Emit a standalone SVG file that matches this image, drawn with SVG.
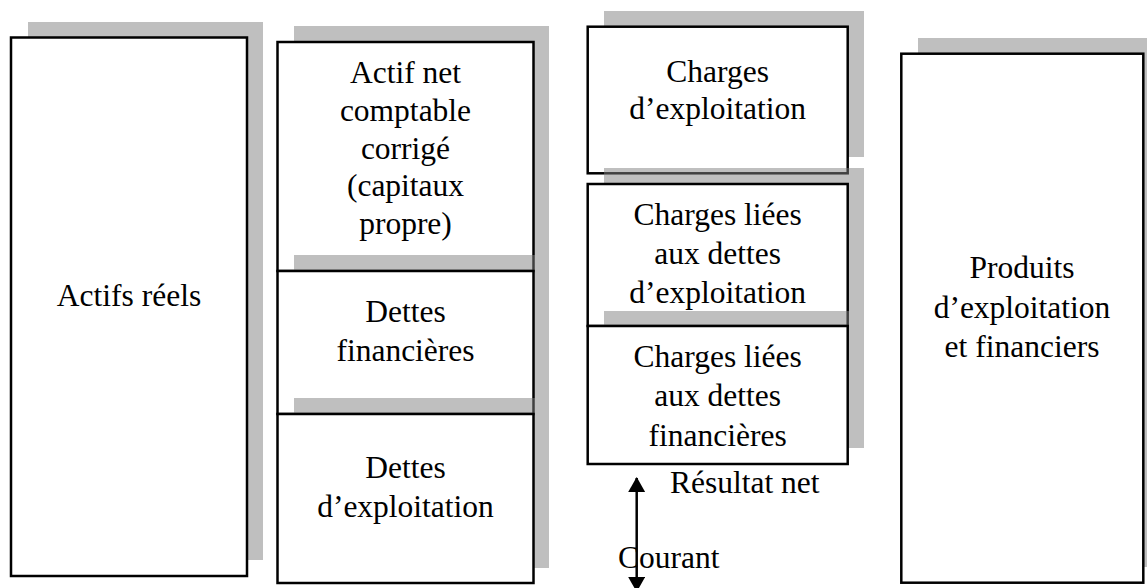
<svg xmlns="http://www.w3.org/2000/svg" width="1147" height="588" viewBox="0 0 1147 588">
  <style>
    .shadow { fill: #808080; fill-opacity: 0.5; }
    .box { fill: #ffffff; stroke: #000000; stroke-width: 2.5; }
    .lbl { font-family: "Liberation Serif", "Times New Roman", serif; font-size: 31.5px; fill: #000000; }
    .mid { text-anchor: middle; }
    .conn { stroke: #000000; stroke-width: 2.5; fill: none; }
  </style>
  <defs>
    <marker id="arrowHead" markerWidth="15" markerHeight="17" refX="14" refY="8.5" orient="auto-start-reverse" markerUnits="userSpaceOnUse" viewBox="0 0 15 17">
      <path d="M0,0 L15,8.5 L0,17 Z" fill="#000000"/>
    </marker>
  </defs>
  <rect width="1147" height="588" fill="#ffffff"/>

  <!-- column 1: assets -->
  <g id="actifs-reels">
    <rect class="shadow" x="28" y="22" width="235" height="538"/>
    <rect class="box" x="11" y="37.5" width="236" height="538.5"/>
    <text class="lbl mid" x="129" y="306">Actifs réels</text>
  </g>

  <!-- column 2: liabilities stack -->
  <g id="actif-net">
    <rect class="shadow" x="294" y="26" width="255" height="229"/>
    <rect class="box" x="277.5" y="42" width="256" height="229"/>
    <text class="lbl mid" x="405.5" y="83">Actif net</text>
    <text class="lbl mid" x="405.5" y="121">comptable</text>
    <text class="lbl mid" x="405.5" y="158.5">corrigé</text>
    <text class="lbl mid" x="405.5" y="196">(capitaux</text>
    <text class="lbl mid" x="405.5" y="233.5">propre)</text>
  </g>
  <g id="dettes-financieres">
    <rect class="shadow" x="294" y="255" width="255" height="143"/>
    <rect class="box" x="277.5" y="271" width="256" height="143"/>
    <text class="lbl mid" x="405.5" y="322">Dettes</text>
    <text class="lbl mid" x="405.5" y="361">financières</text>
  </g>
  <g id="dettes-exploitation">
    <rect class="shadow" x="294" y="398" width="255" height="170"/>
    <rect class="box" x="277.5" y="414" width="256" height="169"/>
    <text class="lbl mid" x="405.5" y="478">Dettes</text>
    <text class="lbl mid" x="405.5" y="517">d’exploitation</text>
  </g>

  <!-- column 3: charges stack -->
  <g id="charges-exploitation">
    <rect class="shadow" x="604" y="11" width="260" height="146"/>
    <rect class="box" x="587.7" y="26.7" width="260" height="146.6"/>
    <text class="lbl mid" x="717.7" y="81.5">Charges</text>
    <text class="lbl mid" x="717.7" y="119">d’exploitation</text>
  </g>
  <g id="charges-dettes-exploitation">
    <rect class="shadow" x="604" y="168" width="260" height="143"/>
    <rect class="box" x="587.7" y="184" width="260" height="142"/>
    <text class="lbl mid" x="717.7" y="224.5">Charges liées</text>
    <text class="lbl mid" x="717.7" y="264">aux dettes</text>
    <text class="lbl mid" x="717.7" y="302.5">d’exploitation</text>
  </g>
  <g id="charges-dettes-financieres">
    <rect class="shadow" x="604" y="311" width="260" height="137"/>
    <rect class="box" x="587.7" y="326" width="260" height="138"/>
    <text class="lbl mid" x="717.7" y="366.5">Charges liées</text>
    <text class="lbl mid" x="717.7" y="406">aux dettes</text>
    <text class="lbl mid" x="717.7" y="445.5">financières</text>
  </g>

  <!-- column 4: revenues -->
  <g id="produits">
    <rect class="shadow" x="918" y="38" width="242" height="529"/>
    <rect class="box" x="901.3" y="53.7" width="242" height="529"/>
    <text class="lbl mid" x="1022" y="278">Produits</text>
    <text class="lbl mid" x="1022" y="317.5">d’exploitation</text>
    <text class="lbl mid" x="1022" y="357">et financiers</text>
  </g>

  <!-- result labels -->
  <g id="resultat">
    <text class="lbl" x="670" y="492.5">Résultat net</text>
    <text class="lbl" x="618" y="568">Courant</text>
  </g>

  <!-- connectors -->
  <g id="connectors">
    <line class="conn" x1="636.7" y1="478" x2="636.7" y2="591" marker-start="url(#arrowHead)" marker-end="url(#arrowHead)"/>
  </g>
</svg>
